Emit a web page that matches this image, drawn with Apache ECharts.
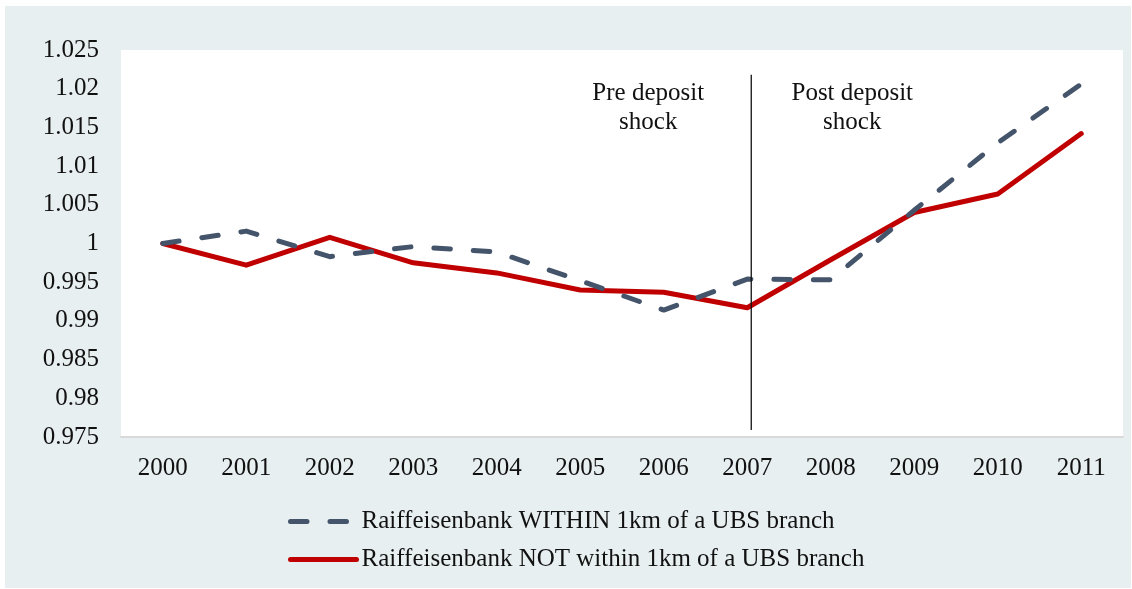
<!DOCTYPE html>
<html>
<head>
<meta charset="utf-8">
<script src="https://cdn.jsdelivr.net/npm/echarts@6/dist/echarts.min.js"></script>
<style>
  html, body { margin: 0; padding: 0; background: #fff; }
  #chart { width: 1132px; height: 589px; }
</style>
</head>
<body>
<div id="chart"></div>
<script>
// Years on the horizontal axis
const years = ['2000', '2001', '2002', '2003', '2004', '2005', '2006', '2007', '2008', '2009', '2010', '2011'];

// Deposit index, Raiffeisen branches within 1km of a UBS branch
const withinUBS = [1.0000, 1.0016, 0.9983, 0.9996, 0.9989, 0.9952, 0.9914, 0.9954, 0.9953, 1.0043, 1.0130, 1.0206];

// Deposit index, Raiffeisen branches not within 1km of a UBS branch
const notWithinUBS = [1.0000, 0.9972, 1.0008, 0.9975, 0.9962, 0.9940, 0.9937, 0.9917, 0.9979, 1.0040, 1.0064, 1.0142];

// Value axis range and step
const yMin = 0.975;
const yMax = 1.025;
const yStep = 0.005;

// Year at which the deposit shock happens, and the extent of the divider
const shockYear = '2007';
const dividerTop = 1.0218;
const dividerBottom = 0.9759;

const seriesNames = [
  'Raiffeisenbank WITHIN 1km of a UBS branch',
  'Raiffeisenbank NOT within 1km of a UBS branch'
];
const periodLabels = ['Pre deposit\nshock', 'Post deposit\nshock'];

const FONT = '"Liberation Serif", "Times New Roman", serif';
const TEXT = '#111';

const chart = echarts.init(document.getElementById('chart'), null, { renderer: 'canvas' });

const panel = {
  type: 'rect',
  id: 'panel',
  z: -100,
  silent: true,
  shape: { x: 5, y: 6, width: 1126, height: 582 },
  style: { fill: '#e8eff1' }
};

const option = {
  animation: false,
  backgroundColor: '#ffffff',
  textStyle: { fontFamily: FONT },
  graphic: [panel],
  grid: {
    left: 121, right: 9, top: 50, bottom: 152,
    show: true,
    backgroundColor: '#ffffff',
    borderWidth: 0
  },
  legend: {
    orient: 'vertical',
    left: 283,
    top: 504,
    itemWidth: 66,
    itemHeight: 14,
    itemGap: 13,
    itemStyle: { opacity: 0 },
    lineStyle: { width: 5, cap: 'round' },
    textStyle: { fontFamily: FONT, fontSize: 25, color: TEXT },
    data: seriesNames
  },
  xAxis: {
    type: 'category',
    data: years,
    boundaryGap: true,
    axisLine: { show: true, lineStyle: { color: '#d9d9d9', width: 2 } },
    axisTick: { show: false },
    axisLabel: { fontFamily: FONT, fontSize: 25, color: TEXT, margin: 19 },
    splitLine: { show: false }
  },
  yAxis: {
    type: 'value',
    min: yMin,
    max: yMax,
    interval: yStep,
    axisLine: { show: false },
    axisTick: { show: false },
    splitLine: { show: false },
    axisLabel: {
      fontFamily: FONT, fontSize: 25, color: TEXT, margin: 22,
      formatter: v => String(+v.toFixed(3))
    }
  },
  series: [
    {
      name: seriesNames[0],
      type: 'line',
      data: withinUBS,
      symbol: 'none',
      z: 3,
      lineStyle: { color: '#44546a', width: 5, type: [16.5, 23], cap: 'round', join: 'round' },
      itemStyle: { color: '#44546a' }
    },
    {
      name: seriesNames[1],
      type: 'line',
      data: notWithinUBS,
      symbol: 'none',
      z: 2,
      lineStyle: { color: '#c00000', width: 5, cap: 'round', join: 'round' },
      itemStyle: { color: '#c00000' }
    }
  ]
};

chart.setOption(option);

// Divider at the shock year plus the two period captions
const xShock = chart.convertToPixel({ xAxisIndex: 0 }, shockYear) + 4;
const yTop = chart.convertToPixel({ yAxisIndex: 0 }, dividerTop);
const yBottom = chart.convertToPixel({ yAxisIndex: 0 }, dividerBottom);

chart.setOption({
  graphic: [
    panel,
    {
      type: 'line',
      id: 'divider',
      z: 10,
      silent: true,
      shape: { x1: xShock, y1: yTop, x2: xShock, y2: yBottom },
      style: { stroke: '#111', lineWidth: 1.3 }
    },
    {
      type: 'text',
      id: 'pre',
      z: 10,
      x: xShock - 103,
      y: 79,
      style: {
        text: periodLabels[0], fill: TEXT, font: '25px ' + FONT,
        align: 'center', verticalAlign: 'top', lineHeight: 29
      }
    },
    {
      type: 'text',
      id: 'post',
      z: 10,
      x: xShock + 101,
      y: 79,
      style: {
        text: periodLabels[1], fill: TEXT, font: '25px ' + FONT,
        align: 'center', verticalAlign: 'top', lineHeight: 29
      }
    }
  ]
});
</script>
</body>
</html>
